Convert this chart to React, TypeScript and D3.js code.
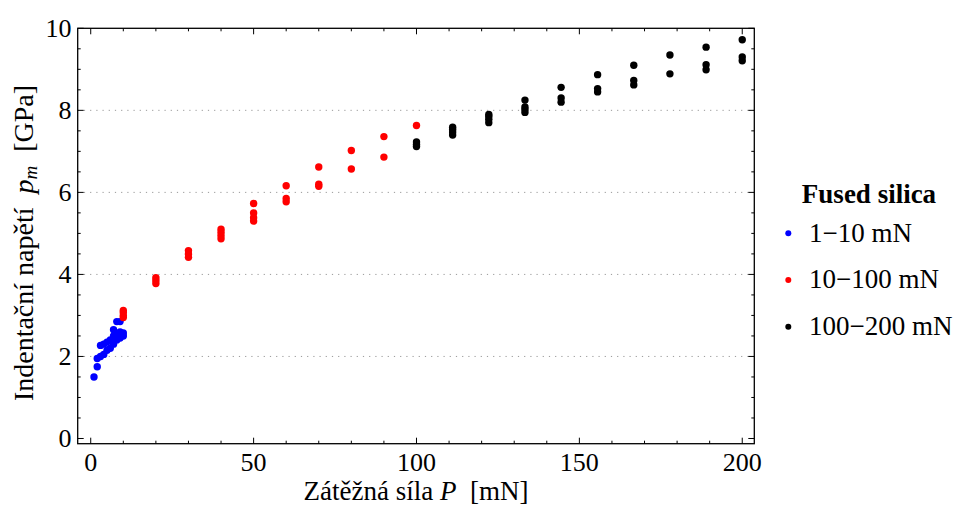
import React from "react";
import * as d3 from "d3";

// ---- data ----
const blueP = [1, 2, 2, 3, 3, 4, 4, 5, 5, 6, 6, 7, 7, 7, 8, 8, 8, 9, 9, 9, 10, 10];
const blueV = [1.5, 1.75, 1.95, 2.0, 2.27, 2.05, 2.3, 2.15, 2.35, 2.2, 2.4, 2.3, 2.5, 2.65, 2.4, 2.55, 2.85, 2.45, 2.6, 2.85, 2.5, 2.57];

const redP = [10, 10, 10, 10, 20, 20, 20, 30, 30, 30, 40, 40, 40, 40, 50, 50, 50, 50, 60, 60, 60, 70, 70, 70, 80, 80, 90, 90, 100];
const redV = [2.95, 3.0, 3.07, 3.12, 3.78, 3.85, 3.92, 4.42, 4.5, 4.58, 4.87, 4.95, 5.03, 5.1, 5.3, 5.38, 5.5, 5.73, 5.77, 5.85, 6.16, 6.15, 6.2, 6.62, 6.57, 7.02, 6.86, 7.36, 7.63];

const blackP = [100, 100, 100, 111.1, 111.1, 111.1, 111.1, 122.2, 122.2, 122.2, 122.2, 133.3, 133.3, 133.3, 133.3, 144.4, 144.4, 144.4, 155.6, 155.6, 155.6, 166.7, 166.7, 166.7, 177.8, 177.8, 188.9, 188.9, 188.9, 200, 200, 200];
const blackV = [7.12, 7.17, 7.23, 7.4, 7.47, 7.53, 7.59, 7.7, 7.78, 7.85, 7.9, 7.95, 8.02, 8.08, 8.25, 8.2, 8.3, 8.56, 8.45, 8.53, 8.87, 8.62, 8.73, 9.1, 8.89, 9.35, 8.99, 9.11, 9.54, 9.21, 9.3, 9.72];

const xMajor = [0, 50, 100, 150, 200];
const yMajor = [0, 2, 4, 6, 8, 10];
const gridY = [2, 4, 6, 8];
const legendLabels = ["1\u221210 mN", "10\u2212100 mN", "100\u2212200 mN"];
const legendTitle = "Fused silica";
const seriesColors = ["#0000ff", "#ff0000", "#000000"];

const W = 960;
const H = 509;
const left = 77.7, right = 754.3, top = 28.3, bottom = 443.7;
const FONT = "Liberation Serif, Times New Roman, DejaVu Serif, serif";
const ts = { fontFamily: FONT };

export default function App() {
  const x = d3.scaleLinear().domain([-4, 203.7]).range([left, right]);
  const y = d3.scaleLinear().domain([-0.127, 10]).range([bottom, top]);

  const xMinor = d3.range(0, 201, 10).filter((v) => !xMajor.includes(v));
  const yMinor = d3.range(0, 10.01, 0.5).filter((v) => !yMajor.includes(v));

  const series = [
    { P: blueP, V: blueV, c: seriesColors[0] },
    { P: redP, V: redV, c: seriesColors[1] },
    { P: blackP, V: blackV, c: seriesColors[2] },
  ];

  const tickColor = "#000";
  return (
    <svg width={W} height={H} style={{ position: "absolute", left: 0, top: 0, background: "#fff", fontFamily: FONT }}>
      <rect x={0} y={0} width={W} height={H} fill="#fff" />
      {/* grid */}
      {gridY.map((g) => (
        <line key={"g" + g} x1={left} x2={right} y1={y(g)} y2={y(g)} stroke="#999" strokeWidth={1} strokeDasharray="1.2,5" />
      ))}
      {/* ticks bottom/top */}
      {xMajor.map((t) => (
        <g key={"xm" + t}>
          <line x1={x(t)} x2={x(t)} y1={bottom} y2={bottom - 6} stroke={tickColor} strokeWidth={1} />
          <line x1={x(t)} x2={x(t)} y1={top} y2={top + 6} stroke={tickColor} strokeWidth={1} />
          <text x={x(t)} y={471} fontSize={26} textAnchor="middle" fill="#000" style={ts}>{t}</text>
        </g>
      ))}
      {xMinor.map((t) => (
        <g key={"xn" + t}>
          <line x1={x(t)} x2={x(t)} y1={bottom} y2={bottom - 3} stroke={tickColor} strokeWidth={1} />
          <line x1={x(t)} x2={x(t)} y1={top} y2={top + 3} stroke={tickColor} strokeWidth={1} />
        </g>
      ))}
      {/* ticks left/right */}
      {yMajor.map((t) => (
        <g key={"ym" + t}>
          <line x1={left} x2={left + 6} y1={y(t)} y2={y(t)} stroke={tickColor} strokeWidth={1} />
          <line x1={right} x2={right - 6} y1={y(t)} y2={y(t)} stroke={tickColor} strokeWidth={1} />
          <text x={71.5} y={y(t) + 8.5} fontSize={26} textAnchor="end" fill="#000" style={ts}>{t}</text>
        </g>
      ))}
      {yMinor.map((t) => (
        <g key={"yn" + t}>
          <line x1={left} x2={left + 3} y1={y(t)} y2={y(t)} stroke={tickColor} strokeWidth={1} />
          <line x1={right} x2={right - 3} y1={y(t)} y2={y(t)} stroke={tickColor} strokeWidth={1} />
        </g>
      ))}
      {/* frame */}
      <rect x={left} y={top} width={right - left} height={bottom - top} fill="none" stroke="#000" strokeWidth={1.3} />
      {/* points */}
      {series.map((s, si) => (
        <g key={"s" + si} fill={s.c}>
          {s.P.map((p, i) => (
            <circle key={i} cx={x(p)} cy={y(s.V[i])} r={3.7} />
          ))}
        </g>
      ))}
      {/* x label */}
      <text x={(left + right) / 2} y={500} fontSize={27} textAnchor="middle" fill="#000" xmlSpace="preserve" style={ts}>
        <tspan>Zátěžná síla </tspan>
        <tspan fontStyle="italic">P</tspan>
        <tspan>{"  [mN]"}</tspan>
      </text>
      {/* y label */}
      <text transform={`translate(33, 243) rotate(-90)`} fontSize={28} textAnchor="middle" fill="#000" xmlSpace="preserve" style={ts}>
        <tspan>{"Indentační napětí  "}</tspan>
        <tspan fontStyle="italic">p</tspan>
        <tspan fontStyle="italic" fontSize={19} dy={4}>m</tspan>
        <tspan dy={-4}>{"  [GPa]"}</tspan>
      </text>
      {/* legend */}
      <text x={869} y={203} fontSize={27} fontWeight="bold" textAnchor="middle" fill="#000" style={ts}>{legendTitle}</text>
      {legendLabels.map((l, i) => (
        <g key={"l" + i}>
          <circle cx={788.3} cy={233.3 + i * 46.7} r={3} fill={seriesColors[i]} />
          <text x={809} y={241.5 + i * 46.7} fontSize={27} fill="#000" style={ts}>{l}</text>
        </g>
      ))}
    </svg>
  );
}
